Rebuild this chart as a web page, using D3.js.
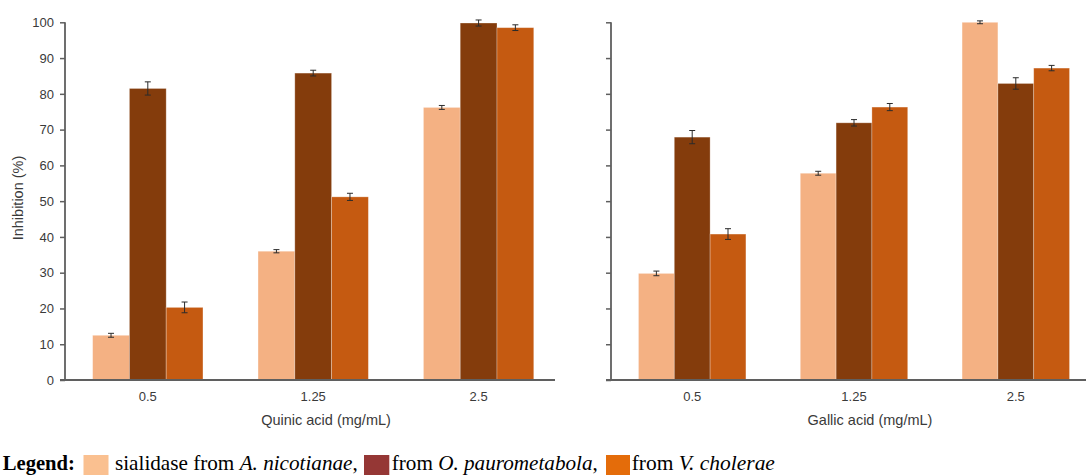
<!DOCTYPE html>
<html>
<head>
<meta charset="utf-8">
<script src="https://cdn.jsdelivr.net/npm/d3@7"></script>
<style>
  html, body { margin: 0; padding: 0; background: #fff; }
  svg { display: block; }
</style>
</head>
<body>
<svg id="chart" width="1086" height="475"></svg>
<script>
// ---------------- data ----------------
const categories = ["0.5", "1.25", "2.5"];
const seriesNames = ["sialidase from A. nicotianae", "from O. paurometabola", "from V. cholerae"];
const yTicks = [0, 10, 20, 30, 40, 50, 60, 70, 80, 90, 100];

// Quinic acid panel (values per series, one per category)
const quinicNicotianae   = [12.5, 36.0, 76.2];
const quinicPaurometabola = [81.5, 85.8, 99.8];
const quinicCholerae     = [20.3, 51.2, 98.5];
const quinicErrNicotianae   = [0.55, 0.45, 0.55];
const quinicErrPaurometabola = [1.85, 0.8, 0.85];
const quinicErrCholerae     = [1.5, 1.0, 0.8];

// Gallic acid panel
const gallicNicotianae   = [29.8, 57.8, 100.0];
const gallicPaurometabola = [67.9, 71.9, 82.9];
const gallicCholerae     = [40.8, 76.3, 87.2];
const gallicErrNicotianae   = [0.65, 0.55, 0.4];
const gallicErrPaurometabola = [1.85, 0.9, 1.6];
const gallicErrCholerae     = [1.5, 1.0, 0.75];

const barColors = ["#F4B183", "#843C0C", "#C55A11"];
const legendColors = ["#FAC090", "#953735", "#E46C0A"];

// ---------------- drawing ----------------
const svg = d3.select("#chart");
const axisColor = "#5f5f5f";
const textColor = "#3a3a3a";
const sansFont = "'Liberation Sans', Arial, sans-serif";

const y = d3.scaleLinear().domain([0, 100]).range([380, 22.3]);

function panel(opts) {
  const g = svg.append("g");
  const x0 = d3.scaleBand().domain(categories).range(opts.xRange).paddingInner(opts.pad).paddingOuter(opts.pad / 2);
  const x1 = d3.scaleBand().domain(d3.range(3)).range([0, x0.bandwidth()]);

  const rows = opts.values.map((vals, s) => vals.map((v, c) => ({ s, c, v, e: opts.errors[s][c] })));

  const groups = g.selectAll("g.series").data(rows).join("g").attr("class", "series");
  groups.selectAll("rect").data(d => d).join("rect")
    .attr("x", d => x0(categories[d.c]) + x1(d.s))
    .attr("y", d => y(d.v))
    .attr("width", x1.bandwidth())
    .attr("height", d => y(0) - y(d.v))
    .attr("fill", d => barColors[d.s])
    .attr("stroke", "rgba(255,255,255,0.35)")
    .attr("stroke-width", 0.8);

  // error bars
  const eb = g.append("g").attr("stroke", "#2b2b2b").attr("stroke-width", 1);
  rows.flat().forEach(d => {
    const cx = x0(categories[d.c]) + x1(d.s) + x1.bandwidth() / 2;
    eb.append("line").attr("x1", cx).attr("x2", cx).attr("y1", y(d.v + d.e)).attr("y2", y(d.v - d.e));
    eb.append("line").attr("x1", cx - 3).attr("x2", cx + 3).attr("y1", y(d.v + d.e)).attr("y2", y(d.v + d.e));
    eb.append("line").attr("x1", cx - 3).attr("x2", cx + 3).attr("y1", y(d.v - d.e)).attr("y2", y(d.v - d.e));
  });

  // y axis
  const yAxis = d3.axisLeft(y).tickValues(yTicks).tickSize(5).tickPadding(6)
    .tickFormat(opts.showLabels ? d3.format("d") : () => "");
  const ya = g.append("g").attr("transform", `translate(${opts.axisX},0)`).call(yAxis);
  ya.select(".domain").attr("stroke", axisColor).attr("stroke-width", 1.8).attr("d", `M0,${y(100)}V${y(0)}`);
  ya.selectAll(".tick line").attr("stroke", axisColor).attr("stroke-width", 1.5);
  ya.selectAll(".tick text").attr("fill", textColor).attr("font-family", sansFont).attr("font-size", 13);

  // x axis
  const xAxis = d3.axisBottom(x0).tickSize(0).tickPadding(12);
  const xa = g.append("g").attr("transform", `translate(0,${y(0)})`).call(xAxis);
  xa.select(".domain").attr("stroke", axisColor).attr("stroke-width", 1.8)
    .attr("d", `M${opts.axisX - 5},0H${opts.xAxisEnd}`);
  xa.selectAll(".tick text").attr("fill", textColor).attr("font-family", sansFont).attr("font-size", 13);

  g.append("text").attr("x", opts.titleX).attr("y", 425).attr("text-anchor", "middle")
    .attr("fill", textColor).attr("font-family", sansFont).attr("font-size", 14.5)
    .text(opts.title);
}

panel({
  xRange: [65.1, 561.3], pad: 0.333, axisX: 65, xAxisEnd: 555,
  values: [quinicNicotianae, quinicPaurometabola, quinicCholerae],
  errors: [quinicErrNicotianae, quinicErrPaurometabola, quinicErrCholerae],
  showLabels: true, title: "Quinic acid (mg/mL)", titleX: 326
});
panel({
  xRange: [611.3, 1096.7], pad: 0.336, axisX: 611, xAxisEnd: 1086,
  values: [gallicNicotianae, gallicPaurometabola, gallicCholerae],
  errors: [gallicErrNicotianae, gallicErrPaurometabola, gallicErrCholerae],
  showLabels: false, title: "Gallic acid (mg/mL)", titleX: 870
});

// y-axis title
svg.append("text")
  .attr("transform", "translate(23,198) rotate(-90)")
  .attr("text-anchor", "middle").attr("fill", textColor)
  .attr("font-family", sansFont).attr("font-size", 14.5)
  .text("Inhibition (%)");

// ---------------- legend ----------------
const serif = "'Liberation Serif', 'Times New Roman', serif";
const baseY = 469.5;
function fitText(x0, x1, parts, bold) {
  const g = svg.append("g");
  const t = g.append("text").attr("x", 0).attr("y", 0)
    .attr("font-family", serif).attr("font-size", 22).attr("fill", "#000")
    .attr("font-weight", bold ? "bold" : "normal");
  parts.forEach(p => t.append("tspan").attr("font-style", p.i ? "italic" : "normal").text(p.t));
  const w = t.node().getComputedTextLength();
  g.attr("transform", `translate(${x0},${baseY}) scale(${(x1 - x0) / w},1)`);
}
fitText(2.7, 75, [{ t: "Legend:" }], true);

const legendItems = [
  { sw: [83.5, 108.5], tx: [115, 358], parts: [{ t: "sialidase from " }, { t: "A. nicotianae", i: true }, { t: "," }] },
  { sw: [364, 389.3], tx: [391.7, 598], parts: [{ t: "from " }, { t: "O. paurometabola", i: true }, { t: "," }] },
  { sw: [606, 630], tx: [631.7, 775], parts: [{ t: "from " }, { t: "V. cholerae", i: true }] }
];
legendItems.forEach((it, i) => {
  svg.append("rect").attr("x", it.sw[0]).attr("y", 455).attr("width", it.sw[1] - it.sw[0]).attr("height", 22)
    .attr("fill", legendColors[i]);
  fitText(it.tx[0], it.tx[1], it.parts, false);
});
</script>
</body>
</html>
